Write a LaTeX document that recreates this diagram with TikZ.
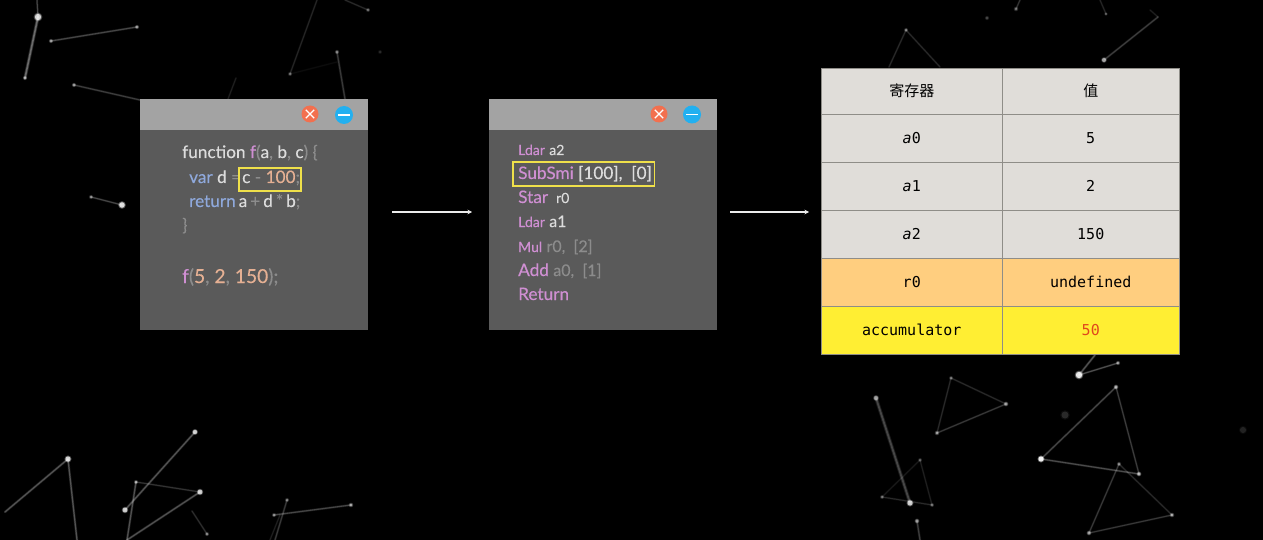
\documentclass[tikz,border=0pt]{standalone}
\usepackage{fontspec}
\setmainfont[FakeBold=0.25]{Lato}
\setmonofont{DejaVu Sans Mono}
\newfontfamily\cjkfont{Noto Sans CJK SC}
\usetikzlibrary{arrows.meta}
\definecolor{titlegrey}{HTML}{A3A3A3}
\definecolor{bodygrey}{HTML}{5A5A5A}
\definecolor{cwhite}{HTML}{DCDCDC}
\definecolor{cpink}{HTML}{CF8FD2}
\definecolor{cdim}{HTML}{8C8C8C}
\definecolor{cblue}{HTML}{8FA9DC}
\definecolor{corange}{HTML}{E5B093}
\definecolor{hlyellow}{HTML}{EFE04A}
\definecolor{closered}{HTML}{F2704F}
\definecolor{minblue}{HTML}{22B0F0}
\definecolor{cellgrey}{HTML}{E0DDD9}
\definecolor{cellorange}{HTML}{FFCE7F}
\definecolor{cellyellow}{HTML}{FFEE33}
\definecolor{cellred}{HTML}{E0481C}
\definecolor{gridline}{HTML}{8F8D88}
\newcommand{\fs}[1]{\fontsize{#1}{#1}\selectfont}
\newcommand{\W}[1]{\textcolor{cwhite}{#1}}
\newcommand{\Pk}[1]{\textcolor{cpink}{#1}}
\newcommand{\Dm}[1]{\textcolor{cdim}{#1}}
\newcommand{\Bl}[1]{\textcolor{cblue}{#1}}
\newcommand{\Or}[1]{\textcolor{corange}{#1}}
\tikzset{
  px/.style={x=1pt,y=-1pt},
  winbody/.style={rectangle,fill=bodygrey,draw=none,outer sep=0pt,minimum width=228pt,minimum height=231pt,inner sep=0pt,anchor=north west},
  winbar/.style={rectangle,fill=titlegrey,draw=none,outer sep=0pt,minimum width=228pt,minimum height=31pt,inner sep=0pt,anchor=north west},
  closebtn/.style={circle,fill=closered,minimum size=17pt,inner sep=0pt},
  minbtn/.style={circle,fill=minblue,minimum size=18pt,inner sep=0pt},
  glyphline/.style={white,line width=1.1pt},
  code/.style={anchor=base west,inner sep=0pt,font=\fs{17.2}},
  hlbox/.style={rectangle,draw=hlyellow,line width=1.6pt,outer sep=0pt,inner sep=0pt,anchor=north west},
  flow/.style={draw=white!92!black,line width=1.3pt,-{Stealth[length=4.5pt,width=4.5pt]}},
  cell/.style={rectangle,draw=gridline,line width=.7pt,outer sep=0pt,inner sep=0pt,text=black,font=\ttfamily\fs{15}},
  namecol/.style={cell,minimum width=181.5pt},
  valcol/.style={cell,minimum width=176.5pt},
  rowh/.style={minimum height=48pt},
  seg/.style={draw=white,line width=#1,line cap=round},
  seg/.default=1pt,
  dotm/.style={fill=white,draw=none},
}
\newcommand{\bgl}[3]{\pgfmathsetmacro\opa{#1*0.3}\pgfmathsetmacro\opb{#1*0.55}%
  \draw[seg=#2*2pt,opacity=\opa] #3;\draw[seg=#2*1pt,opacity=\opb] #3;}
\newcommand{\bgd}[3]{\pgfmathsetmacro\opa{#1*0.4}\pgfmathsetmacro\rb{#2*1.35}%
  \fill[dotm,opacity=\opa] #3 circle (\rb pt);\fill[dotm,opacity=#1] #3 circle (#2pt);}
\begin{document}
\begin{tikzpicture}[px]
\useasboundingbox (0,0) rectangle (1263,540);
\fill[black] (0,0) rectangle (1263,540);
% background constellation
\bgl{.55}{1.6}{(38,17)--(25,78)}
\bgl{.35}{1}{(38,17)--(37,0)}
\bgl{.35}{1.1}{(51,41)--(137,27)}
\bgl{.3}{1.1}{(74,85)--(140,100)}
\bgl{.35}{1}{(91,197)--(122,205)}
\bgl{.18}{1}{(317,0)--(290,74)}
\bgl{.06}{1}{(290,74)--(337,62)}
\bgl{.28}{1.2}{(337,52)--(345,99)}
\bgl{.15}{1}{(236,78)--(228,99)}
\bgl{.2}{1}{(368,10)--(345,0)}
\bgd{.75}{3.2}{(38,17)}
\bgd{.45}{1.6}{(25,78)}
\bgd{.45}{1.6}{(51,41)}
\bgd{.45}{1.6}{(137,27)}
\bgd{.45}{1.6}{(74,85)}
\bgd{.4}{1.5}{(91,197)}
\bgd{.8}{2.8}{(122,205)}
\bgd{.3}{1.5}{(290,74)}
\bgd{.35}{1.6}{(337,52)}
\bgd{.12}{1.5}{(380,52)}
\bgd{.3}{1.5}{(368,10)}
% lower left
\bgl{.42}{1.2}{(68,459)--(5,512)}
\bgl{.42}{1.2}{(68,459)--(77,540)}
\bgl{.42}{1.2}{(195,432)--(125,510)}
\bgl{.25}{1}{(136,482)--(200,492)}
\bgl{.4}{1.2}{(136,482)--(127,540)}
\bgl{.4}{1.2}{(200,492)--(127,540)}
\bgl{.22}{1}{(192,511)--(207,534)}
\bgl{.35}{1.1}{(274,515)--(351,505)}
\bgl{.28}{1.1}{(287,500)--(275,540)}
\bgl{.15}{1}{(280,515)--(270,540)}
\bgd{.75}{2.6}{(68,459)}
\bgd{.7}{2.2}{(195,432)}
\bgd{.7}{2.4}{(125,510)}
\bgd{.5}{1.5}{(136,482)}
\bgd{.7}{2.4}{(200,492)}
\bgd{.4}{1.5}{(207,534)}
\bgd{.4}{1.5}{(274,515)}
\bgd{.5}{1.7}{(351,505)}
\bgd{.35}{1.5}{(287,500)}
% lower right
\bgl{.35}{1.8}{(876,398)--(910,503)}
\bgl{.12}{1}{(920,460)--(882,497)}
\bgl{.15}{1}{(920,460)--(932,505)}
\bgl{.2}{1}{(882,497)--(932,505)}
\bgl{.2}{1}{(951,378)--(1006,404)}
\bgl{.2}{1}{(951,378)--(937,433)}
\bgl{.28}{1}{(1006,404)--(937,433)}
\bgl{.4}{1}{(1079,375)--(1118,363)}
\bgl{.4}{1.2}{(1079,375)--(1095,355)}
\bgl{.35}{1.1}{(1116,387)--(1041,459)}
\bgl{.3}{1}{(1116,387)--(1139,474)}
\bgl{.38}{1.1}{(1041,459)--(1139,474)}
\bgl{.28}{1}{(1119,464)--(1089,533)}
\bgl{.2}{1}{(1119,464)--(1172,515)}
\bgl{.28}{1}{(1172,515)--(1089,533)}
\bgl{.3}{1.2}{(917,521)--(920,540)}
\bgd{.45}{2.2}{(876,398)}
\bgd{.7}{2.6}{(910,503)}
\bgd{.25}{1.5}{(920,460)}
\bgd{.3}{1.5}{(882,497)}
\bgd{.3}{1.5}{(932,505)}
\bgd{.3}{1.5}{(951,378)}
\bgd{.45}{1.8}{(1006,404)}
\bgd{.45}{1.7}{(937,433)}
\bgd{.85}{3.2}{(1079,375)}
\bgd{.45}{1.6}{(1118,363)}
\bgd{.5}{1.8}{(1116,387)}
\bgd{.9}{2.6}{(1041,459)}
\bgd{.55}{1.8}{(1139,474)}
\bgd{.35}{1.6}{(1119,464)}
\bgd{.5}{1.7}{(1172,515)}
\bgd{.45}{1.8}{(1089,533)}
\bgd{.45}{1.8}{(917,521)}
\bgd{.12}{3.5}{(1065,415)}
\bgd{.1}{3}{(1243,430)}
% upper right
\bgl{.2}{1}{(906,30)--(889,67)}
\bgl{.2}{1}{(906,30)--(940,67)}
\bgl{.3}{1.1}{(1104,60)--(1158,17)}
\bgl{.15}{1}{(1150,10)--(1158,17)}
\bgl{.25}{1}{(1016,9)--(1020,0)}
\bgl{.18}{1}{(1106,14)--(1100,0)}
\bgd{.35}{1.5}{(906,30)}
\bgd{.5}{2.1}{(1104,60)}
\bgd{.3}{1.7}{(1016,9)}
\bgd{.2}{1.6}{(987,18)}
\bgd{.25}{1.4}{(1106,14)}
% window 1
\node[winbody] (win1) at (140,99) {};
\node[winbar] (bar1) at (140,99) {};
\node[closebtn] (close1) at (310,114) {};
\draw[glyphline] ([shift={(-4.2,-4.2)}]close1.center) -- ([shift={(4.2,4.2)}]close1.center);
\draw[glyphline] ([shift={(-4.2,4.2)}]close1.center) -- ([shift={(4.2,-4.2)}]close1.center);
\node[minbtn] (min1) at (344,115) {};
\draw[glyphline] ([xshift=-6pt]min1.center) -- ([xshift=6pt]min1.center);
\node[code] (c1) at (182,158) {\W{function} \Pk{f}\Dm{(}\W{a}\Dm{,} \W{b}\Dm{,} \W{c}\Dm{)} \Dm{\{}};
\node[code] (c2) at (189,183) {\Bl{var} \W{d} \Dm{=}};
\node[code] (c2b) at (242,183) {\W{c} \Dm{-} \Or{100}\Dm{;}};
\node[code] (c3) at (189,207) {\spaceskip=3pt \Bl{return} \W{a} \Dm{+} \W{d} \Dm{*} \W{b}\Dm{;}};
\node[code] (c4) at (182,231) {\Dm{\}}};
\node[code,font=\fs{19.2}] (c5) at (182,283) {\Pk{f}\Dm{(}\Or{5}\Dm{,} \Or{2}\Dm{,} \Or{150}\Dm{);}};
\node[hlbox,minimum width=62pt,minimum height=23pt] (hl1) at (239,168) {};
% window 2
\node[winbody] (win2) at (489,99) {};
\node[winbar] (bar2) at (489,99) {};
\node[closebtn] (close2) at (659,114) {};
\draw[glyphline] ([shift={(-4.2,-4.2)}]close2.center) -- ([shift={(4.2,4.2)}]close2.center);
\draw[glyphline] ([shift={(-4.2,4.2)}]close2.center) -- ([shift={(4.2,-4.2)}]close2.center);
\node[minbtn] (min2) at (692,114.5) {};
\draw[glyphline] ([xshift=-6pt]min2.center) -- ([xshift=6pt]min2.center);
\node[code] (b1) at (518,155) {{\fs{14}\Pk{Ldar}} {\fs{14}\W{a2}}};
\node[code] (b2) at (518,179) {\Pk{SubSmi} \W{[100],\ \ [0]}};
\node[code] (b3) at (518,203) {\Pk{Star} {\fs{14}\ \W{r0}}};
\node[code] (b4) at (518,227) {{\fs{14}\Pk{Ldar}} {\fs{16}\W{a1}}};
\node[code] (b5) at (518,252) {{\fs{14}\Pk{Mul}} {\fs{16}\Dm{r0,\ \ [2]}}};
\node[code] (b6) at (518,276) {\Pk{Add} {\fs{16}\Dm{a0,\ \ [1]}}};
\node[code] (b7) at (518,300) {\Pk{Return}};
\node[hlbox,minimum width=141.5pt,minimum height=24pt] (hl2) at (513,162) {};
% table
\node[namecol,fill=cellgrey,minimum height=46pt,anchor=north west] (h1) at (821,68) {\cjkfont\fs{15}寄存器};
\node[valcol,fill=cellgrey,minimum height=46pt,anchor=north west] (h2) at (h1.north east) {\cjkfont\fs{15}值};
\node[namecol,rowh,fill=cellgrey,anchor=north] (r1a) at (h1.south) {{\itshape a}0};
\node[valcol,rowh,fill=cellgrey,anchor=north] (r1b) at (h2.south) {5};
\node[namecol,rowh,fill=cellgrey,anchor=north] (r2a) at (r1a.south) {{\itshape a}1};
\node[valcol,rowh,fill=cellgrey,anchor=north] (r2b) at (r1b.south) {2};
\node[namecol,rowh,fill=cellgrey,anchor=north] (r3a) at (r2a.south) {{\itshape a}2};
\node[valcol,rowh,fill=cellgrey,anchor=north] (r3b) at (r2b.south) {150};
\node[namecol,rowh,fill=cellorange,anchor=north] (r4a) at (r3a.south) {r0};
\node[valcol,rowh,fill=cellorange,anchor=north] (r4b) at (r3b.south) {undefined};
\node[namecol,rowh,fill=cellyellow,anchor=north] (r5a) at (r4a.south) {accumulator};
\node[valcol,rowh,fill=cellyellow,anchor=north,text=cellred] (r5b) at (r4b.south) {50};
% arrows
\coordinate (a1s) at (392,212);
\coordinate (a1e) at (472,212);
\coordinate (a2s) at (730,212);
\coordinate (a2e) at (809,212);
\draw[flow] (a1s) -- (a1e);
\draw[flow] (a2s) -- (a2e);
\end{tikzpicture}
\end{document}
